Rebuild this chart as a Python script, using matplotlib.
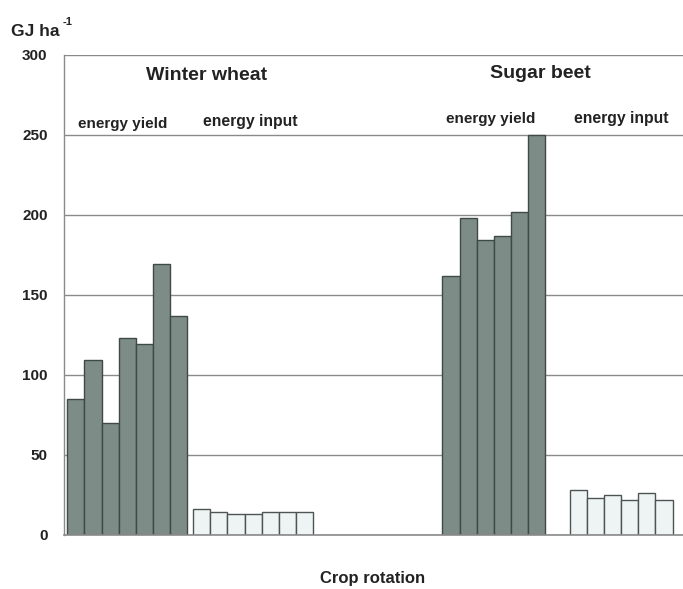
import numpy as np
import matplotlib
matplotlib.use("Agg")
import matplotlib.pyplot as plt

plt.rcParams['font.family'] = ['Liberation Sans', 'DejaVu Sans']

# values (GJ ha-1)
wheat_yield = [85, 109, 70, 123, 119, 169, 137]
wheat_input = [16, 14, 13, 13, 14, 14, 14]
beet_yield = [162, 198, 184, 187, 202, 250]
beet_input = [28, 23, 25, 22, 26, 22]

y_ticks = [0, 50, 100, 150, 200, 250, 300]

dark = "#7d8c86"
dark_edge = "#3f4a46"
light = "#eef4f4"
light_edge = "#4d5553"

fig = plt.figure(figsize=(6.83, 5.89), dpi=100)
ax = fig.add_axes([0.094, 0.092, 0.906, 0.815])

def draw_group(start, values, color, edge):
    x = start + np.arange(len(values))
    ax.bar(x, values, width=1.0, align="edge", color=color,
           edgecolor=edge, linewidth=1.0, zorder=3)

draw_group(0.17, wheat_yield, dark, dark_edge)
draw_group(7.5, wheat_input, light, light_edge)
draw_group(22.0, beet_yield, dark, dark_edge)
draw_group(29.4, beet_input, light, light_edge)

ax.set_xlim(0, 36)
ax.set_ylim(0, 300)
ax.set_yticks(y_ticks)
ax.set_yticklabels([str(t) for t in y_ticks], fontsize=11, fontweight="bold", color="#222222")
ax.tick_params(axis="y", length=0, pad=12)
ax.set_xticks([])

ax.grid(axis="y", color="#8a8a8a", linewidth=1.0, zorder=0)
ax.set_axisbelow(True)
# baseline at zero, drawn fully
ax.axhline(0, color="#8a8a8a", linewidth=1.2, clip_on=False, zorder=4)
for side in ["top", "right", "bottom"]:
    ax.spines[side].set_visible(False)
ax.spines["left"].set_color("#8a8a8a")
ax.spines["left"].set_linewidth(1.0)

txt = dict(fontweight="bold", color="#222222", ha="center", va="center")
ax.text(8.3, 287, "Winter wheat", fontsize=14, **txt)
ax.text(3.4, 257, "energy yield", fontsize=11, **txt)
ax.text(10.8, 258, "energy input", fontsize=11.3, **txt)
ax.text(27.7, 288, "Sugar beet", fontsize=14, **txt)
ax.text(24.8, 260, "energy yield", fontsize=11, **txt)
ax.text(32.4, 260, "energy input", fontsize=11.3, **txt)

fig.text(0.016, 0.947, "GJ ha", fontsize=12.5, fontweight="bold",
         color="#222222", ha="left", va="center")
fig.text(0.091, 0.962, "-1", fontsize=8, fontweight="bold",
         color="#222222", ha="left", va="center")
fig.text(0.546, 0.018, "Crop rotation", fontsize=12, fontweight="bold",
         color="#222222", ha="center", va="center")

fig.savefig("out.png", dpi=100)
